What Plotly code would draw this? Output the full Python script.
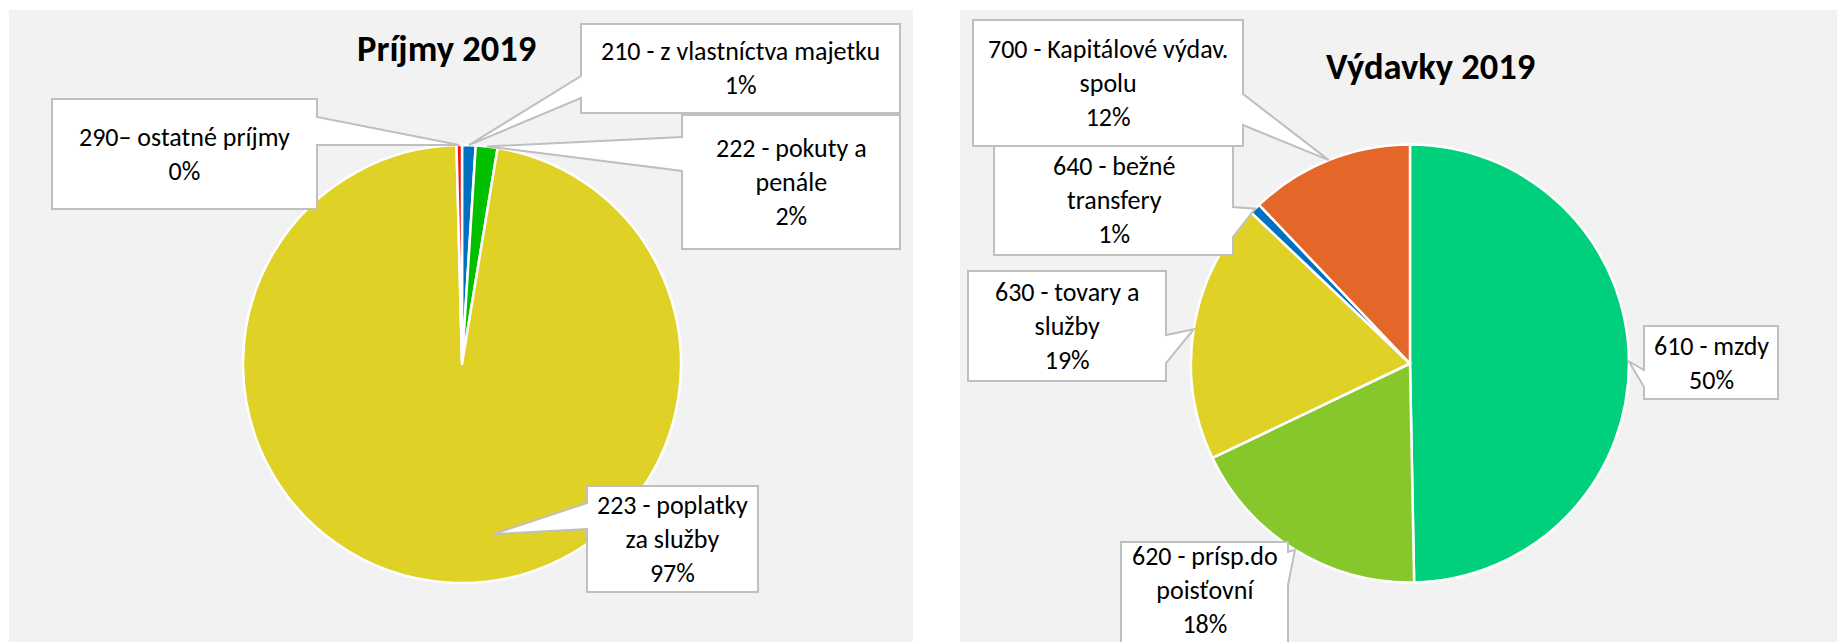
import math
import plotly.graph_objects as go

W, H = 1837, 642

# ---- data -------------------------------------------------------------
inc_title = "Príjmy 2019"
inc_labels = ["210 - z vlastníctva majetku", "222 - pokuty a\npenále",
              "223 - poplatky\nza služby", "290– ostatné príjmy"]
inc_shares = [1.0, 1.6, 97.0, 0.4]
inc_colors = ["#0070C0", "#00C000", "#E0D126", "#F01010"]

exp_title = "Výdavky 2019"
exp_labels = ["610 - mzdy", "620 - prísp.do\npoisťovní", "630 - tovary a\nslužby",
              "640 - bežné\ntransfery", "700 - Kapitálové výdav.\nspolu"]
exp_shares = [49.7, 18.2, 19.2, 0.8, 12.1]
exp_colors = ["#00D07C", "#86C72B", "#E0D126", "#0070C0", "#E46629"]

# ---- layout (pixels) ----------------------------------------------------
FONT = "Calibri, Carlito, Lato, sans-serif"
PANEL = "#F2F2F2"
BOX_LINE = "#BFBFBF"
LABEL_SIZE = 26
TITLE_SIZE = 36.5

inc_geom = dict(cx=462, cy=364, r=219, panel=(9, 10, 913, 642), title_xy=(446, 49))
exp_geom = dict(cx=1410, cy=363.5, r=219, panel=(960, 10, 1837, 642), title_xy=(1430, 67))

# callout boxes, one per slice: box (x0, y0, x1, y1), side carrying the pointer,
# pointer base span, optional pointer direction (deg clockwise from 12 o'clock)
# and radius fraction, optional text centre y
inc_callouts = [
    dict(box=(581, 24, 900, 113), side="left", base=(76, 98)),
    dict(box=(682, 115, 900, 249), side="left", base=(137, 171)),
    dict(box=(587, 486, 758, 592), side="left", base=(503, 529), ang=169.6, rf=0.79),
    dict(box=(52, 99, 317, 209), side="right", base=(117, 145)),
]
exp_callouts = [
    dict(box=(1644, 326, 1778, 399), side="left", base=(370, 387)),
    dict(box=(1121, 542, 1288, 660), side="right", base=(552, 585), ty=590),
    dict(box=(968, 271, 1166, 381), side="right", base=(335, 363)),
    dict(box=(994, 145, 1233, 255), side="right", base=(207, 237)),
    dict(box=(973, 20, 1243, 146), side="right", base=(94, 125)),
]


def px(x):
    return x / W


def py(y):
    return 1 - y / H


def mid_angles(values):
    total = sum(values)
    out, acc = [], 0.0
    for v in values:
        span = v / total * 360.0
        out.append(acc + span / 2)
        acc += span
    return out


fig = go.Figure()
shapes = []
annotations = []


def add_pie(labels, values, colors, geom, title, callouts):
    cx, cy, r = geom["cx"], geom["cy"], geom["r"]
    x0, y0, x1, y1 = geom["panel"]
    shapes.append(dict(type="rect", xref="paper", yref="paper", layer="below",
                       x0=px(x0), x1=px(x1), y0=py(y1), y1=py(y0),
                       fillcolor=PANEL, line=dict(width=0)))
    fig.add_trace(go.Pie(
        labels=[l.replace("\n", " ") for l in labels], values=values,
        sort=False, direction="clockwise", rotation=0,
        marker=dict(colors=colors, line=dict(color="white", width=2.5)),
        textinfo="none", hoverinfo="label+percent", showlegend=False,
        domain=dict(x=[px(cx - r), px(cx + r)], y=[py(cy + r), py(cy - r)]),
    ))
    tx, ty = geom["title_xy"]
    annotations.append(dict(text=f"<b>{title}</b>", x=px(tx), y=py(ty),
                            xref="paper", yref="paper", showarrow=False,
                            xanchor="center", yanchor="middle",
                            font=dict(family=FONT, size=TITLE_SIZE, color="#000000")))

    total = sum(values)
    mids = mid_angles(values)
    # boxes are drawn in slice order; later ones sit on top
    for i, c in enumerate(callouts):
        bx0, by0, bx1, by1 = c["box"]
        ang = math.radians(c.get("ang", mids[i]))
        rr = r * c.get("rf", 1.0)
        tipx = cx + rr * math.sin(ang)
        tipy = cy - rr * math.cos(ang)
        ya, yb = c["base"]
        if c["side"] == "left":
            pts = [(bx0, by0), (bx1, by0), (bx1, by1), (bx0, by1),
                   (bx0, yb), (tipx, tipy), (bx0, ya)]
        else:
            pts = [(bx0, by0), (bx1, by0), (bx1, ya), (tipx, tipy),
                   (bx1, yb), (bx1, by1), (bx0, by1)]
        path = "M " + " L ".join(f"{px(a):.5f},{py(b):.5f}" for a, b in pts) + " Z"
        shapes.append(dict(type="path", xref="paper", yref="paper", layer="above",
                           path=path, fillcolor="white",
                           line=dict(color=BOX_LINE, width=2)))
        pct = round(values[i] / total * 100)
        text = labels[i].replace("\n", "<br>") + f"<br>{pct:.0f}%"
        ty_txt = c.get("ty", (by0 + by1) / 2)
        annotations.append(dict(text=text, x=px((bx0 + bx1) / 2), y=py(ty_txt),
                                xref="paper", yref="paper", showarrow=False,
                                xanchor="center", yanchor="middle", align="center",
                                font=dict(family=FONT, size=LABEL_SIZE, color="#000000")))


add_pie(inc_labels, inc_shares, inc_colors, inc_geom, inc_title, inc_callouts)
add_pie(exp_labels, exp_shares, exp_colors, exp_geom, exp_title, exp_callouts)

fig.update_layout(
    width=W, height=H,
    margin=dict(l=0, r=0, t=0, b=0),
    paper_bgcolor="white", plot_bgcolor="white",
    shapes=shapes, annotations=annotations,
    showlegend=False,
)

fig.write_html("out.html", include_plotlyjs=True, config=dict(displayModeBar=False))
